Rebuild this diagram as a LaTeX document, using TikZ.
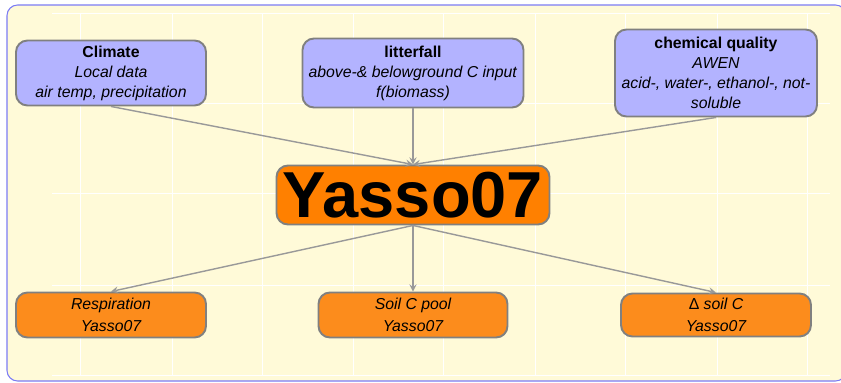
\documentclass[tikz,border=0pt]{standalone}
\usepackage{fontspec}
\setmainfont{Liberation Sans}
\usetikzlibrary{positioning}

\definecolor{paper}{HTML}{FFFAD8}
\definecolor{frameblue}{HTML}{7B7BF5}
\definecolor{lavender}{HTML}{B3B3FF}
\definecolor{yassoorange}{HTML}{FF8000}
\definecolor{outorange}{HTML}{FC8C1C}

\begin{document}
\begin{tikzpicture}
	[
		x=0.02cm, y=-0.02cm,
		>=stealth,
		box/.style={
				rectangle,
				rounded corners=6.5pt,
				line width=1.1pt,
				draw=black!50,
				align=center,
				inner sep=1pt,
				font=\fontsize{9}{11.4}\selectfont,
			},
		inBox/.style={box, fill=lavender},
		outBox/.style={box, fill=outorange, font=\fontsize{9}{12.5}\selectfont\itshape},
		flow/.style={->, line width=0.8pt, draw=black!40},
	]
	\useasboundingbox (0,0) rectangle (841,382);
	\draw[fill=paper, draw=frameblue, line width=0.6pt, rounded corners=6pt] (7,5) rectangle (846,381);
	\foreach \y in {13,103,193,285,375}
		\draw[white, line width=0.5pt] (52,\y) -- (830,\y);
	\foreach \x in {80,172,262,353,443,535,625,717,807}
		\draw[white, line width=0.5pt] (\x,13) -- (\x,375);

	\node[box, fill=yassoorange, minimum width=5.46cm, minimum height=1.18cm,
		font=\fontsize{37}{40}\selectfont\bfseries] (yasso) at (413,195) {Yasso07};

	\node[inBox, minimum width=3.8cm, minimum height=1.3cm] (climate) at (111,73)
		{\textbf{Climate}\\\textit{Local data}\\\textit{air temp, precipitation}};
	\node[inBox, minimum width=4.42cm, minimum height=1.38cm] (litter) at (413,73)
		{\textbf{litterfall}\\\textit{above-\& belowground C input}\\\textit{f(biomass)}};
	\node[inBox, minimum width=4.04cm, minimum height=1.74cm] (quality) at (716,73)
		{\textbf{chemical quality}\\\textit{AWEN}\\\textit{acid-, water-, ethanol-, not-}\\\textit{soluble}};

	\node[outBox, minimum width=3.8cm, minimum height=0.9cm] (resp) at (111,315)
		{Respiration\\Yasso07};
	\node[outBox, minimum width=3.78cm, minimum height=0.9cm] (pool) at (413,315)
		{Soil C pool\\Yasso07};
	\node[outBox, minimum width=3.8cm, minimum height=0.86cm] (delta) at (716,315)
		{{\upshape Δ} soil C\\Yasso07};

	\draw[flow] (climate.south) -- (yasso.north);
	\draw[flow] (litter.south) -- (yasso.north);
	\draw[flow] (quality.south) -- (yasso.north);
	\draw[flow] (yasso.south) -- (resp.north);
	\draw[flow] (yasso.south) -- (pool.north);
	\draw[flow] (yasso.south) -- (delta.north);
\end{tikzpicture}
\end{document}
